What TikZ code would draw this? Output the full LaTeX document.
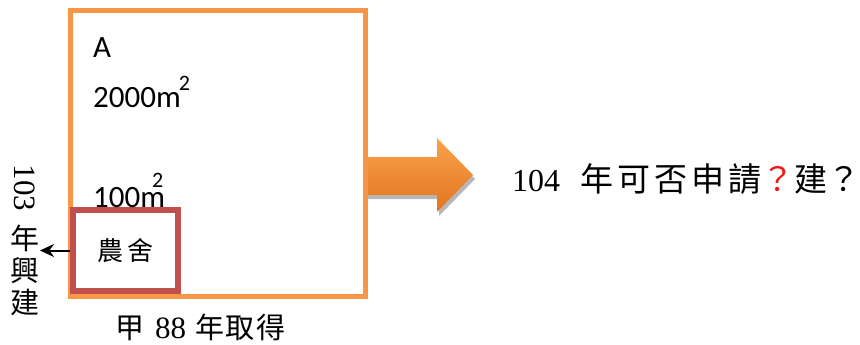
\documentclass[tikz,border=0pt]{standalone}
\usepackage{fontspec}
\setmainfont{Carlito}
\newfontfamily\cjk{Noto Sans CJK TC}
\newfontfamily\numfont{Liberation Serif}
\usetikzlibrary{arrows.meta}
\definecolor{plotorange}{HTML}{F79646}
\definecolor{housered}{HTML}{C0504D}
\definecolor{arrowlight}{HTML}{F9A24B}
\definecolor{arrowdark}{HTML}{E3741F}
\definecolor{askred}{HTML}{F01818}
\begin{document}
\begin{tikzpicture}[x=1pt,y=-1pt,
  every node/.style={inner sep=0pt},
  areatext/.style={anchor=base west, font=\fontsize{31}{36}\selectfont}]
\useasboundingbox (0,0) rectangle (860,345);
\fill[black!40, opacity=.7, shift={(2,4)}] (365,157) -- (437,157) -- (437,138) -- (473,175) -- (437,212) -- (437,195) -- (365,195) -- cycle;
\shade[top color=arrowlight, bottom color=arrowdark] (365,157) -- (437,157) -- (437,138) -- (473,175) -- (437,212) -- (437,195) -- (365,195) -- cycle;
\node[draw=plotorange, line width=5pt, minimum width=295, minimum height=285] (plot) at (217.5,153.5) {};
\node[draw=housered, line width=6pt, fill=white, minimum width=105, minimum height=81] (house) at (125.5,250.5) {\fontsize{26}{30}\selectfont\cjk 農\hspace{5pt}舍};
\node[areatext] (plotname) at (93,58) {A};
\node[areatext] (plotarea) at (93,107) {2000m\kern-2pt\raisebox{17pt}{\fontsize{22}{22}\selectfont 2}};
\node[areatext] (housearea) at (93,207) {100m\kern-13pt\raisebox{20pt}{\fontsize{22}{22}\selectfont 2}};
\node[anchor=base west] (owner) at (115,338) {{\fontsize{29}{30}\selectfont\cjk 甲}\hspace{11pt}{\fontsize{31}{30}\selectfont\numfont 88}\hspace{9pt}{\fontsize{29}{30}\selectfont\cjk\addfontfeature{LetterSpace=5}年取得}};
\node[anchor=base west] (question) at (512,191) {{\fontsize{32}{36}\selectfont\numfont 104}\hspace{20pt}{\fontsize{33}{36}\selectfont\cjk\addfontfeature{LetterSpace=12}年可否申請{\color{askred}？}建}{\fontsize{33}{36}\selectfont\cjk ？}};
\node[rotate=-90, font=\fontsize{31}{30}\selectfont\numfont] (year) at (25,188) {103};
\node[align=center, font=\fontsize{29}{32}\selectfont\cjk] (built) at (25,270) {年\\興\\建};
\coordinate (builtpoint) at (40,250.5);
\draw[-{Stealth[length=14pt,width=13pt]}, line width=2pt] (house.west) -- (builtpoint);
\end{tikzpicture}
\end{document}
